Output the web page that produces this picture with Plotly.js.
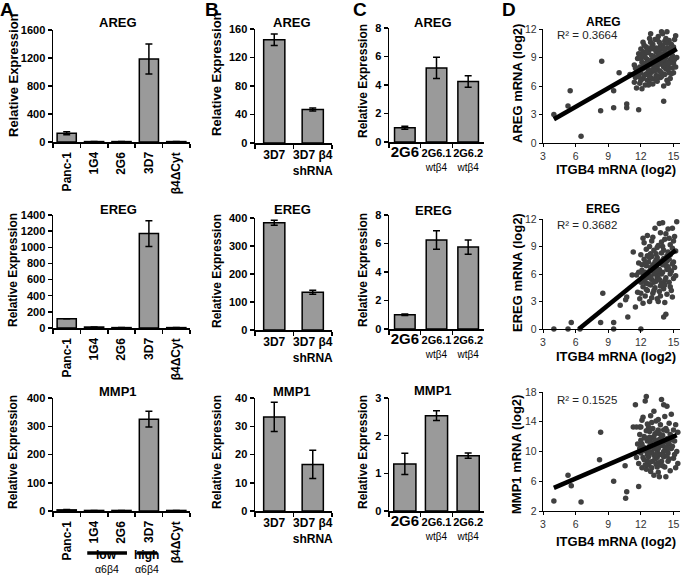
<!DOCTYPE html>
<html><head><meta charset="utf-8">
<script src="https://cdn.plot.ly/plotly-3.0.1.min.js"></script>
<style>html,body{margin:0;padding:0;background:#fff;}#chart{width:683px;height:584px;}</style>
</head><body><div id="chart"></div>
<script>
// ---------- DATA ----------
const cellsA = ["Panc-1","1G4","2G6","3D7","β4ΔCyt"];
const ticksA = ["Panc-1","1G4","2G6","3D7","β4ΔCyt"];
const cellsB = ["3D7","3D7 β4 shRNA"];
const ticksB = ["3D7","3D7 β4<br>shRNA"];
const cellsC = ["2G6","2G6.1 wtβ4","2G6.2 wtβ4"];
const ticksC = ["<span style='font-size:15px'>2G6</span>",
  "2G6.1<br><span style='font-weight:normal;font-size:10px'>wtβ4</span>",
  "2G6.2<br><span style='font-weight:normal;font-size:10px'>wtβ4</span>"];
const genes = ["AREG","EREG","MMP1"];

const aAREG = [125, 6, 6, 1185, 6],   aAREGErr = [20, 0, 0, 215, 0];
const aEREG = [115, 12, 5, 1170, 5],  aEREGErr = [0, 0, 0, 160, 0];
const aMMP1 = [4, 2, 2, 325, 2],      aMMP1Err = [1, 0, 0, 28, 0];
const bAREG = [145, 47],   bAREGErr = [8, 2];
const bEREG = [383, 135],  bEREGErr = [9, 7];
const bMMP1 = [33.3, 16.5], bMMP1Err = [5.2, 5];
const cAREG = [1.0, 5.2, 4.25],  cAREGErr = [0.1, 0.75, 0.4];
const cEREG = [1.0, 6.25, 5.75], cEREGErr = [0.05, 0.65, 0.5];
const cMMP1 = [1.25, 2.53, 1.47], cMMP1Err = [0.28, 0.13, 0.07];

const r2Labels = ["R² = 0.3664","R² = 0.3682","R² = 0.1525"];
const trendAREG = [[4, 2.5],[15.3, 9.9]];
const trendEREG = [[6.3, 0],[15.2, 8.6]];
const trendMMP1 = [[4, 5.1],[15.3, 12.2]];

const aregPts = [[4,3.0],[5.3,3.9],[5.5,5.5],[6.5,0.7],[8.4,8.6],[8.3,3.4],[9.5,3.7],[9.5,5.5],[10.0,7.4],[10.7,4.1],[10.7,3.7],[11.0,7.2],[11.8,3.5],[14.1,4.4],
[11.3,7.2],[11.4,8.2],[11.5,6.9],[11.6,5.8],[11.6,7.6],[11.7,8.9],[11.8,7.0],[11.9,6.3],[11.9,8.0],[12.0,9.9],[12.0,7.4],[12.1,5.7],[12.1,8.5],[12.2,6.8],[12.2,10.6],[12.3,7.9],[12.3,9.2],[12.4,6.1],[12.4,8.4],[12.5,7.3],[12.5,10.1],[12.6,8.8],[12.6,6.6],[12.7,9.5],[12.7,7.7],[12.8,11.0],[12.8,8.2],[12.9,6.9],[12.9,9.9],[13.0,7.5],[13.0,8.7],[13.1,10.4],[13.1,6.2],[13.2,9.1],[13.2,7.9],[13.3,8.4],[13.3,10.9],[13.4,7.1],[13.4,9.6],[13.5,8.0],[13.5,6.5],[13.6,9.2],[13.6,11.2],[13.7,7.6],[13.7,8.8],[13.8,10.2],[13.8,6.9],[13.9,9.9],[13.9,8.3],[14.0,7.3],[14.0,11.5],[14.1,9.4],[14.1,6.0],[14.2,8.6],[14.2,10.7],[14.3,7.8],[14.3,9.0],[14.4,11.7],[14.4,6.6],[14.5,8.1],[14.5,10.0],[14.6,7.4],[14.6,9.5],[14.7,8.7],[14.7,6.8],[14.8,10.4],[14.9,7.9],[14.9,9.2],[15.0,8.4],[15.1,10.9],[15.2,11.3],[15.3,9.0],
[12.0,8.9],[12.3,7.1],[12.6,9.9],[12.9,7.4],[13.2,8.6],[13.5,9.7],[13.8,7.5],[14.1,8.0],[14.4,9.3],[12.2,9.6],[12.8,6.3],[13.4,10.0],[14.0,10.3],[13.0,9.2],[13.6,7.0],[14.2,7.2],[12.5,8.0],[13.1,7.7],[13.7,10.6],[14.3,11.0],[12.4,9.0],[13.3,6.7],[13.9,11.7],[14.6,10.8],[12.1,7.8],[12.7,8.5],[13.0,6.8],[13.6,8.3],[14.8,8.9],[11.8,9.4],[12.9,11.5],[14.5,6.3],[15.0,10.1],[15.2,8.0],[11.5,7.9],[12.6,7.2],[13.2,9.9],[13.8,9.1],[14.4,8.5],
[11.4,6.4],[11.7,7.3],[12.0,6.6],[12.2,8.1],[12.5,9.5],[12.8,7.0],[13.1,8.3],[13.4,8.9],[13.7,9.5],[14.0,8.7],[14.3,8.2],[14.6,8.4],[14.9,9.7],[15.1,8.8],[12.3,10.3],[12.9,10.6],[13.5,10.9],[14.1,10.0],[14.7,9.9],[12.7,6.1],[13.3,7.6],[13.9,7.0],[14.5,7.7],[15.0,7.4],[12.1,9.3],[13.6,9.9],[14.2,9.8],[14.8,7.3],[13.0,10.1],[14.4,10.5]];

const eregPts = [[4,0],[5.3,0],[5.6,0.7],[6.4,0],[8.3,0.7],[8.5,3.9],[9.5,0],[9.5,0.7],[10.1,2.6],[10.6,3.2],[10.7,3.5],[10.8,1.3],[11.2,5.9],[12.0,0],
[11.3,8.4],[11.5,2.4],[11.6,5.9],[11.7,4.0],[11.8,7.2],[11.9,3.3],[12.0,5.1],[12.0,8.1],[12.1,6.4],[12.2,2.8],[12.2,4.6],[12.3,7.6],[12.3,9.4],[12.4,5.5],[12.4,3.6],[12.5,6.9],[12.5,8.7],[12.6,4.2],[12.6,10.2],[12.7,5.8],[12.7,7.3],[12.8,3.0],[12.8,6.3],[12.9,8.2],[12.9,4.8],[13.0,5.4],[13.0,9.6],[13.1,7.0],[13.1,3.9],[13.2,6.0],[13.2,8.6],[13.3,4.5],[13.3,11.0],[13.4,6.7],[13.4,5.2],[13.5,7.8],[13.5,3.3],[13.6,9.1],[13.6,5.9],[13.7,4.1],[13.7,6.5],[13.8,7.4],[13.8,10.5],[13.9,5.0],[13.9,8.3],[14.0,6.2],[14.0,11.6],[14.1,1.3],[14.1,4.4],[14.2,7.1],[14.2,9.8],[14.3,1.6],[14.3,5.6],[14.4,8.0],[14.4,3.8],[14.5,6.8],[14.5,10.9],[14.6,5.1],[14.6,7.6],[14.7,9.2],[14.7,4.6],[14.8,6.3],[14.9,8.8],[14.9,3.5],[15.0,7.3],[15.1,10.1],[15.2,5.8],[15.3,11.7],[15.2,8.5],
[12.1,7.0],[12.4,6.2],[12.7,4.9],[13.0,7.9],[13.3,6.2],[13.6,7.2],[13.9,6.0],[14.2,5.3],[14.5,8.4],[12.3,5.2],[12.9,6.7],[13.5,5.6],[14.1,7.7],[14.7,6.0],[12.6,8.0],[13.2,5.1],[13.8,4.7],[14.4,6.5],[15.0,9.6],[12.0,3.9],[12.8,9.0],[13.4,8.2],[14.0,9.0],[14.6,9.9],[13.1,10.0],[13.7,11.5],[14.3,10.4],[12.5,4.3],[13.0,3.4],[13.6,3.0],[14.2,2.9],[14.8,4.2],[11.8,6.2],[12.2,9.9],[13.9,9.5],[15.1,6.7],[14.9,11.0],[12.6,5.6],[13.3,7.3],[14.0,5.0],[14.4,7.4],
[12.2,6.0],[12.5,5.0],[12.8,7.8],[13.1,6.4],[13.4,7.5],[13.7,5.4],[14.0,7.0],[14.3,6.9],[14.6,6.5],[14.9,7.1],[13.2,4.2],[13.8,3.6],[12.4,7.2],[13.5,8.9],[14.1,8.6],[14.7,8.1],[12.9,5.7],[13.6,6.3],[14.2,4.8],[15.0,5.5]];

const mmp1Pts = [[4,3.35],[5.3,6.8],[5.6,5.4],[6.5,3.2],[8.3,12.6],[8.2,8.9],[9.5,6.0],[10.6,3.7],[10.7,4.6],[10.55,8.1],[11.8,5.3],
[11.3,13.3],[11.5,16.3],[11.6,9.2],[11.7,11.0],[11.8,8.4],[11.9,12.3],[12.0,9.8],[12.0,13.3],[12.1,7.8],[12.2,10.6],[12.2,14.6],[12.3,8.9],[12.3,12.0],[12.4,16.8],[12.4,10.1],[12.5,17.4],[12.5,7.6],[12.6,11.4],[12.6,13.7],[12.7,9.3],[12.7,8.2],[12.8,12.7],[12.8,10.7],[12.9,14.8],[12.9,7.3],[13.0,9.9],[13.0,11.8],[13.1,8.7],[13.1,13.1],[13.2,10.4],[13.2,6.8],[13.3,12.4],[13.3,9.0],[13.4,14.1],[13.4,11.1],[13.5,7.9],[13.5,10.0],[13.6,12.9],[13.6,8.5],[13.7,11.6],[13.7,6.6],[13.8,9.6],[13.8,13.6],[13.9,17.0],[13.9,10.8],[14.0,8.1],[14.0,12.2],[14.1,16.3],[14.1,9.3],[14.2,14.7],[14.2,11.3],[14.3,6.6],[14.3,10.2],[14.4,16.1],[14.4,12.8],[14.5,8.7],[14.5,9.8],[14.6,13.8],[14.6,11.0],[14.7,7.4],[14.8,10.4],[14.8,15.0],[14.9,12.0],[15.0,9.1],[15.1,11.4],[15.2,7.8],[15.3,10.0],[15.4,8.4],[15.4,12.6],
[12.0,11.5],[12.3,10.5],[12.6,9.6],[12.9,11.2],[13.2,12.0],[13.5,9.2],[13.8,10.9],[14.1,10.0],[14.4,11.7],[12.2,9.2],[12.8,9.8],[13.4,8.3],[14.0,9.6],[14.6,9.0],[13.1,10.6],[13.7,12.4],[14.3,13.1],[12.5,12.8],[13.0,13.9],[13.6,14.3],[14.9,10.7],[11.9,10.4],[12.7,13.3],[13.3,10.8],[13.9,8.7],[14.5,11.1],[15.0,12.9],[12.4,8.2],[13.0,7.8],[13.6,7.2],[14.2,7.9],[11.6,13.3],[11.9,13.3],[12.1,14.2],[14.7,12.3],[15.2,13.6],[13.2,15.4],[12.9,8.6],
[12.1,11.0],[12.4,11.8],[12.7,10.3],[13.0,10.7],[13.3,11.5],[13.6,10.4],[13.9,11.9],[14.2,10.6],[14.5,10.4],[14.8,11.6],[12.6,8.7],[13.2,9.5],[13.8,8.2],[14.4,9.4],[15.1,9.6],[12.8,11.9],[13.5,12.6],[14.1,12.9],[13.4,9.6],[14.0,10.9]];

// ---------- LAYOUT HELPERS ----------
const W = 683, H = 584;
const px = v => v / W, py = v => 1 - v / H;
const fam = "Liberation Sans, Arial, sans-serif";
const colX = [[53,190],[255,332],[389,484],[543,680]];
const rowY = [
  [[30,142],[215,328],[398,511]],
  [[29,143],[218,330],[398,511]],
  [[28,142],[215,329],[398,511]],
  [[29,143],[219,329],[392,511]]
];
const sfx = n => n === 1 ? '' : String(n);
const traces = [];
const layout = {width:W, height:H, margin:{l:0,r:0,t:0,b:0}, paper_bgcolor:'#fff', plot_bgcolor:'rgba(0,0,0,0)',
  showlegend:false, font:{family:fam, color:'#000'}, annotations:[], shapes:[]};

const ctx = document.createElement('canvas').getContext('2d');
function textLen(t, size) { ctx.font = 'bold ' + size + 'px "Liberation Sans", Arial, sans-serif'; return ctx.measureText(t).width; }

function ann(text, x, y, size, opts) {
  layout.annotations.push(Object.assign({text, x:px(x), y:py(y), xref:'paper', yref:'paper', showarrow:false,
    xanchor:'center', yanchor:'middle', font:{family:fam, size, color:'#000', weight:'bold'}}, opts || {}));
}

function barPanel(c, r, cats, ticks, vals, errs, bw, yr, dt, rotated, tsize) {
  const n = r * 4 + c + 1, s = sfx(n);
  traces.push({type:'bar', x:cats, y:vals, width:bw, xaxis:'x'+s, yaxis:'y'+s, hoverinfo:'skip',
    marker:{color:'#9a9a9a', line:{color:'#000', width:1.5}},
    error_y:{type:'data', array:errs, visible:true, color:'#000', thickness:1.5, width:3.5}});
  const yd = rowY[c][r];
  layout['xaxis'+s] = {domain:[px(colX[c][0]), px(colX[c][1])], anchor:'y'+s, type:'category',
    range:[-0.5, cats.length-0.5], showline:true, linecolor:'#000', linewidth:1.5,
    ticks:'outside', ticklen:4, tickwidth:1.5, tickcolor:'#000', tickson:'boundaries',
    tickmode:'array', tickvals:cats, ticktext:ticks, tickangle:0, showticklabels:!rotated,
    tickfont:{family:fam, size:tsize, color:'#000', weight:'bold'}, showgrid:false, zeroline:false, fixedrange:true};
  layout['yaxis'+s] = {domain:[py(yd[1]), py(yd[0])], anchor:'x'+s, range:yr, tick0:0, dtick:dt,
    showline:true, linecolor:'#000', linewidth:1.5, ticks:'outside', ticklen:4, tickwidth:1.5, tickcolor:'#000',
    tickfont:{family:fam, size:11, color:'#000', weight:'bold'}, showgrid:false, zeroline:false, fixedrange:true};
  if (rotated) {
    // upward-reading labels whose end sits just under the axis
    ticks.forEach((t, i) => layout.annotations.push({text:t, xref:'x'+s, yref:'paper', x:i,
      y:py(yd[1] + 10 + textLen(t, tsize) / 2), xanchor:'center', yanchor:'middle', textangle:-90, showarrow:false,
      font:{family:fam, size:tsize, color:'#000', weight:'bold'}}));
  }
}

function scatterPanel(r, pts, trend, yr, dt) {
  const c = 3, n = r * 4 + c + 1, s = sfx(n);
  traces.push({type:'scatter', mode:'markers', x:pts.map(p=>p[0]), y:pts.map(p=>p[1]), xaxis:'x'+s, yaxis:'y'+s,
    cliponaxis:false, hoverinfo:'skip', marker:{size:5.5, color:'#404040'}});
  traces.push({type:'scatter', mode:'lines', x:trend.map(p=>p[0]), y:trend.map(p=>p[1]), xaxis:'x'+s, yaxis:'y'+s,
    cliponaxis:false, hoverinfo:'skip', line:{color:'#000', width:4.5}});
  const yd = rowY[c][r];
  layout['xaxis'+s] = {domain:[px(colX[c][0]), px(colX[c][1])], anchor:'y'+s, range:[3,15.6], tick0:3, dtick:3,
    showline:true, linecolor:'#000', linewidth:1.2, ticks:'outside', ticklen:3, tickwidth:1, tickcolor:'#000',
    tickfont:{family:fam, size:10.5, color:'#333'}, showgrid:false, zeroline:false, fixedrange:true};
  layout['yaxis'+s] = {domain:[py(yd[1]), py(yd[0])], anchor:'x'+s, range:yr, tick0:yr[0], dtick:dt,
    showline:true, linecolor:'#000', linewidth:1.2, ticks:'outside', ticklen:3, tickwidth:1, tickcolor:'#000',
    tickfont:{family:fam, size:10.5, color:'#333'}, showgrid:false, zeroline:false, fixedrange:true};
}

// Panel A
barPanel(0,0,cellsA,ticksA,aAREG,aAREGErr,0.7,[0,1600],400,true,12);
barPanel(0,1,cellsA,ticksA,aEREG,aEREGErr,0.7,[0,1400],200,true,12);
barPanel(0,2,cellsA,ticksA,aMMP1,aMMP1Err,0.7,[0,400],100,true,12);
// Panel B
barPanel(1,0,cellsB,ticksB,bAREG,bAREGErr,0.55,[0,160],40,false,12);
barPanel(1,1,cellsB,ticksB,bEREG,bEREGErr,0.55,[0,400],100,false,12);
barPanel(1,2,cellsB,ticksB,bMMP1,bMMP1Err,0.55,[0,40],10,false,12);
// Panel C
barPanel(2,0,cellsC,ticksC,cAREG,cAREGErr,0.65,[0,8],2,false,11);
barPanel(2,1,cellsC,ticksC,cEREG,cEREGErr,0.65,[0,8],2,false,11);
barPanel(2,2,cellsC,ticksC,cMMP1,cMMP1Err,0.7,[0,3],1,false,11);
// Panel D
scatterPanel(0,aregPts,trendAREG,[0,12],3);
scatterPanel(1,eregPts,trendEREG,[0,12],3);
scatterPanel(2,mmp1Pts,trendMMP1,[2,18],4);

// panel letters
ann("A",7,10,19); ann("B",212,10,19); ann("C",360,10,19); ann("D",509,10,19);
// gene titles
const titleX = [118, 292, 433, 603];
const titleY = [[22,209,391],[22,209,391],[22,210,390],[22,209,null]];
for (let c=0;c<4;c++) for (let r=0;r<3;r++) {
  if (titleY[c][r] !== null) ann(genes[r], titleX[c], titleY[c][r], c===3?12:13);
}
// y-axis titles
const yTitleX = [13, 217, 363];
const yTitleY = [[75,270,452],[74,271,452],[81,270,452]];
for (let c=0;c<3;c++) for (let r=0;r<3;r++)
  ann("Relative Expression", yTitleX[c], yTitleY[c][r], (r===0 && c<2)?13:12, {textangle:-90});
const dYT = [84,273,455];
for (let r=0;r<3;r++) ann(genes[r]+" mRNA (log2)", 517, dYT[r], 13, {textangle:-90});
const dXT = [170,356,541];
for (let r=0;r<3;r++) ann("ITGB4 mRNA (log2)", 616, dXT[r], 13);
const r2Y = [35,225,400];
for (let r=0;r<3;r++) ann(r2Labels[r], 555, r2Y[r], 11.5, {xanchor:'left', font:{family:fam,size:11.5,color:'#222'}});

// low / high α6β4 markers under panel A bottom
layout.shapes.push({type:'line', xref:'x9', yref:'paper', x0:0.75, x1:2.2, y0:py(553), y1:py(553), line:{color:'#000', width:3.5}});
layout.shapes.push({type:'line', xref:'x9', yref:'paper', x0:2.57, x1:3.3, y0:py(553), y1:py(553), line:{color:'#000', width:3.5}});
layout.annotations.push({text:'low', xref:'x9', yref:'paper', x:1.47, y:py(564), showarrow:false, font:{family:fam,size:12,color:'#000',weight:'bold'}});
layout.annotations.push({text:'high', xref:'x9', yref:'paper', x:2.93, y:py(564), showarrow:false, font:{family:fam,size:12,color:'#000',weight:'bold'}});
layout.annotations.push({text:'α6β4', xref:'x9', yref:'paper', x:1.47, y:py(577), showarrow:false, font:{family:fam,size:10.5,color:'#000'}});
layout.annotations.push({text:'α6β4', xref:'x9', yref:'paper', x:2.93, y:py(577), showarrow:false, font:{family:fam,size:10.5,color:'#000'}});

Plotly.newPlot('chart', traces, layout, {staticPlot:true, displayModeBar:false});
</script></body></html>
